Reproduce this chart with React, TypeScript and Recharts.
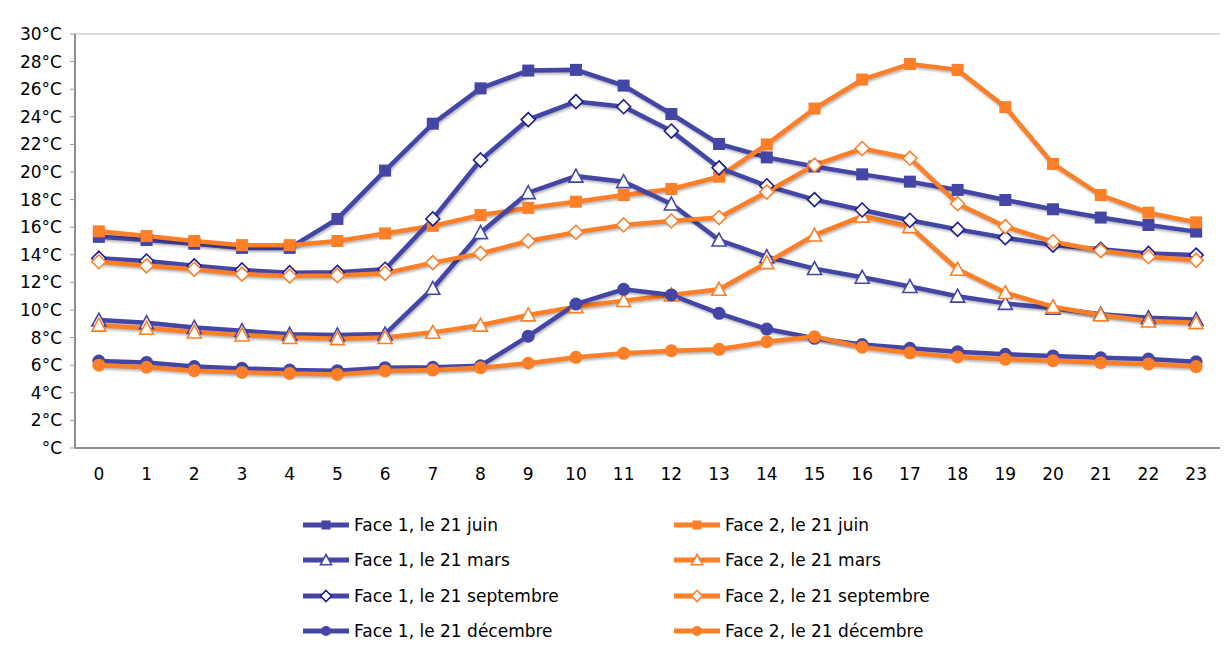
import { LineChart, Line, XAxis, YAxis, CartesianGrid, Legend } from 'recharts';

const hours = [0, 1, 2, 3, 4, 5, 6, 7, 8, 9, 10, 11, 12, 13, 14, 15, 16, 17, 18, 19, 20, 21, 22, 23];

const face1Juin = [15.3, 15.07, 14.8, 14.5, 14.5, 16.6, 20.1, 23.5, 26.06, 27.35, 27.4, 26.26, 24.2, 22.03, 21.06, 20.4, 19.83, 19.3, 18.7, 17.97, 17.3, 16.7, 16.16, 15.68];
const face2Juin = [15.7, 15.36, 15.0, 14.7, 14.7, 15.0, 15.55, 16.1, 16.88, 17.4, 17.85, 18.33, 18.77, 19.66, 22.0, 24.6, 26.7, 27.83, 27.4, 24.7, 20.58, 18.33, 17.05, 16.35];
const face1Mars = [9.27, 9.08, 8.74, 8.5, 8.24, 8.19, 8.26, 11.57, 15.6, 18.5, 19.7, 19.3, 17.68, 15.07, 13.86, 13.0, 12.37, 11.7, 11.0, 10.48, 10.12, 9.7, 9.44, 9.32];
const face2Mars = [8.9, 8.67, 8.4, 8.19, 8.0, 7.92, 8.0, 8.38, 8.9, 9.64, 10.24, 10.68, 11.09, 11.5, 13.43, 15.43, 16.8, 16.04, 12.95, 11.26, 10.24, 9.64, 9.2, 9.08];
const face1Sept = [13.75, 13.55, 13.2, 12.9, 12.7, 12.73, 12.95, 16.6, 20.87, 23.8, 25.1, 24.73, 22.97, 20.3, 19.0, 18.0, 17.25, 16.5, 15.84, 15.24, 14.7, 14.4, 14.1, 13.98];
const face2Sept = [13.5, 13.2, 12.95, 12.6, 12.46, 12.5, 12.66, 13.43, 14.1, 15.0, 15.63, 16.16, 16.45, 16.7, 18.55, 20.5, 21.7, 21.0, 17.7, 16.04, 14.95, 14.3, 13.86, 13.6];
const face1Dec = [6.3, 6.2, 5.9, 5.77, 5.65, 5.6, 5.82, 5.85, 5.96, 8.1, 10.43, 11.5, 11.09, 9.76, 8.62, 7.95, 7.5, 7.22, 6.98, 6.79, 6.67, 6.54, 6.45, 6.25];
const face2Dec = [6.0, 5.85, 5.6, 5.48, 5.4, 5.33, 5.58, 5.65, 5.82, 6.14, 6.57, 6.86, 7.05, 7.15, 7.7, 8.07, 7.3, 6.9, 6.6, 6.43, 6.33, 6.18, 6.09, 5.9];

const yTicks = [0, 2, 4, 6, 8, 10, 12, 14, 16, 18, 20, 22, 24, 26, 28, 30];

const BLUE = '#4446a6';
const NAVY = '#1c1c8f';
const ORANGE = '#fd7f27';
const FONT = '"DejaVu Sans", sans-serif';

type Shape = 'square' | 'triangle' | 'diamond' | 'circle';

const seriesList: { key: string; name: string; values: number[]; color: string; shape: Shape; outline: string }[] = [
  { key: 'f1juin', name: 'Face 1, le 21 juin', values: face1Juin, color: BLUE, shape: 'square', outline: BLUE },
  { key: 'f2juin', name: 'Face 2, le 21 juin', values: face2Juin, color: ORANGE, shape: 'square', outline: ORANGE },
  { key: 'f1mars', name: 'Face 1, le 21 mars', values: face1Mars, color: BLUE, shape: 'triangle', outline: BLUE },
  { key: 'f2mars', name: 'Face 2, le 21 mars', values: face2Mars, color: ORANGE, shape: 'triangle', outline: ORANGE },
  { key: 'f1sept', name: 'Face 1, le 21 septembre', values: face1Sept, color: BLUE, shape: 'diamond', outline: NAVY },
  { key: 'f2sept', name: 'Face 2, le 21 septembre', values: face2Sept, color: ORANGE, shape: 'diamond', outline: ORANGE },
  { key: 'f1dec', name: 'Face 1, le 21 décembre', values: face1Dec, color: BLUE, shape: 'circle', outline: BLUE },
  { key: 'f2dec', name: 'Face 2, le 21 décembre', values: face2Dec, color: ORANGE, shape: 'circle', outline: ORANGE },
];

const data = hours.map((hour, i) => {
  const row: Record<string, number> = { hour };
  seriesList.forEach((s) => {
    row[s.key] = s.values[i];
  });
  return row;
});

const boundaryTicks = [...hours.map((h) => h - 0.5), hours[hours.length - 1] + 0.5];

function Marker({ cx, cy, shape, color, outline, size }: { cx: number; cy: number; shape: Shape; color: string; outline: string; size: number }) {
  const h = size / 2;
  if (shape === 'square') {
    return <rect x={cx - h} y={cy - h} width={size} height={size} fill={color} />;
  }
  if (shape === 'circle') {
    return <circle cx={cx} cy={cy} r={h} fill={color} />;
  }
  if (shape === 'diamond') {
    return (
      <polygon
        points={`${cx},${cy - h} ${cx + h},${cy} ${cx},${cy + h} ${cx - h},${cy}`}
        fill="#fff"
        stroke={outline}
        strokeWidth={1.6}
      />
    );
  }
  return (
    <polygon
      points={`${cx},${cy - h} ${cx + h},${cy + h * 0.85} ${cx - h},${cy + h * 0.85}`}
      fill="#fff"
      stroke={outline}
      strokeWidth={1.6}
      strokeLinejoin="miter"
    />
  );
}

const markerSize: Record<Shape, number> = { square: 12, circle: 13, diamond: 14, triangle: 14 };
const legendSize: Record<Shape, number> = { square: 9, circle: 10, diamond: 11, triangle: 11 };

function ChartLegend() {
  return (
    <div style={{ position: 'relative', width: 1229, height: 145, fontFamily: FONT, fontSize: 17, color: '#000' }}>
      {seriesList.map((s, i) => {
        const col = i % 2;
        const row = Math.floor(i / 2);
        return (
          <div
            key={s.key}
            style={{
              position: 'absolute',
              left: col === 0 ? 303 : 674,
              top: 7 + row * 35.5,
              height: 35.5,
              display: 'flex',
              alignItems: 'center',
              whiteSpace: 'nowrap',
            }}
          >
            <svg width={46} height={16} style={{ display: 'block' }}>
              <line x1={0} y1={8} x2={46} y2={8} stroke={s.color} strokeWidth={5} />
              <Marker cx={23} cy={8} shape={s.shape} color={s.color} outline={s.outline} size={legendSize[s.shape]} />
            </svg>
            <span style={{ marginLeft: 5 }}>{s.name}</span>
          </div>
        );
      })}
    </div>
  );
}

export default function App() {
  return (
    <div style={{ width: 1229, height: 653, background: '#fff' }}>
      <style>{`body{margin:0} .recharts-line{filter:drop-shadow(1px 2px 1px rgba(0,0,0,0.28));}`}</style>
      <LineChart width={1229} height={653} data={data} margin={{ top: 34, right: 9, left: 0, bottom: 8 }}>
        <CartesianGrid vertical={false} stroke="#d2d2d2" strokeWidth={1.5} />
        <XAxis
          xAxisId="bounds"
          type="number"
          dataKey="hour"
          domain={[-0.5, 23.5]}
          ticks={boundaryTicks}
          tick={false}
          tickSize={5}
          tickLine={{ stroke: '#9a9a9a', strokeWidth: 1 }}
          axisLine={false}
          height={0}
        />
        <XAxis
          xAxisId="labels"
          type="number"
          dataKey="hour"
          domain={[-0.5, 23.5]}
          ticks={hours}
          interval={0}
          tickLine={false}
          tickSize={5}
          tickMargin={15}
          axisLine={{ stroke: '#8f8f8f', strokeWidth: 2 }}
          tick={{ fill: '#000', fontSize: 17, fontFamily: FONT }}
          height={52}
        />
        <XAxis
          xAxisId="top"
          orientation="top"
          type="number"
          domain={[-0.5, 23.5]}
          tick={false}
          tickLine={false}
          axisLine={{ stroke: '#a0a0a0', strokeWidth: 2 }}
          height={0}
        />
        <YAxis
          yAxisId="left"
          domain={[0, 30]}
          ticks={yTicks}
          interval={0}
          width={75}
          tickSize={5}
          tickMargin={8}
          tickFormatter={(v: number) => (v === 0 ? '°C' : `${v}°C`)}
          tick={{ fill: '#000', fontSize: 17, fontFamily: FONT }}
          tickLine={{ stroke: '#9a9a9a', strokeWidth: 1 }}
          axisLine={{ stroke: '#8f8f8f', strokeWidth: 2 }}
        />
        <YAxis
          yAxisId="right"
          orientation="right"
          domain={[0, 30]}
          tick={false}
          tickLine={false}
          width={0}
          axisLine={{ stroke: '#a0a0a0', strokeWidth: 2 }}
        />
        <Legend verticalAlign="bottom" align="left" wrapperStyle={{ left: 0, width: 1229 }} content={() => <ChartLegend />} />
        {seriesList.map((s) => (
          <Line
            key={s.key}
            xAxisId="labels"
            yAxisId="left"
            dataKey={s.key}
            name={s.name}
            type="linear"
            stroke={s.color}
            strokeWidth={4.5}
            isAnimationActive={false}
            activeDot={false}
            dot={(p: any) => (
              <Marker
                key={`${s.key}-${p.index}`}
                cx={p.cx}
                cy={p.cy}
                shape={s.shape}
                color={s.color}
                outline={s.outline}
                size={markerSize[s.shape]}
              />
            )}
          />
        ))}
      </LineChart>
    </div>
  );
}
